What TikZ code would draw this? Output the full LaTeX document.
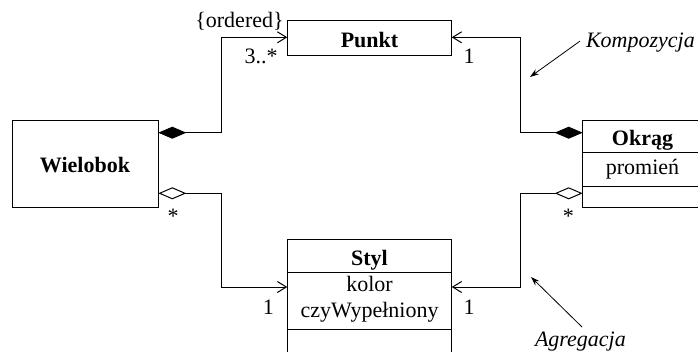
\documentclass[tikz,border=0pt]{standalone}
\usepackage{fontspec}
\setmainfont{Liberation Serif}
\usetikzlibrary{arrows.meta,calc}
\begin{document}
\begin{tikzpicture}[x=1pt,y=-1pt,line width=1pt,
  font=\fontsize{22}{26}\selectfont,
  cls/.style={draw,inner sep=0pt,outer sep=0pt,anchor=north west},
  txt/.style={inner sep=0pt,outer sep=0pt,anchor=base},
  ttl/.style={txt,font=\fontsize{22}{26}\selectfont\bfseries},
  compo/.style={{Diamond[length=28pt,width=12pt]}-{Straight Barb[length=9pt,width=11pt]}},
  aggr/.style={{Diamond[open,length=28pt,width=12pt]}-{Straight Barb[length=9pt,width=11pt]}},
  note/.style={-{Stealth[length=9pt,width=6pt]},line width=0.8pt}]
\useasboundingbox (0,0) rectangle (698,351);
\clip (0,0) rectangle (698,351);

% class boxes
\node[cls,minimum width=164.4pt,minimum height=35pt] (punkt) at (287.3,20.7) {};
\node[ttl] (punktT) at (369.5,47) {Punkt};

\node[cls,minimum width=146.3pt,minimum height=87pt] (wielobok) at (12,120) {};
\node[ttl] (wielobokT) at (85,172) {Wielobok};

\node[cls,minimum width=120pt,minimum height=87pt] (okrag) at (582.7,120) {};
\node[ttl] (okragT) at (642.5,145) {Okrąg};
\node[txt] (okragA) at (642.5,174) {promień};
\draw (okrag.north west) ++(0,32) coordinate (o1) -- ++(130,0);
\draw (okrag.north west) ++(0,66) coordinate (o2) -- ++(130,0);

\node[cls,minimum width=164.4pt,minimum height=130pt] (styl) at (287.3,239.3) {};
\node[ttl] (stylT) at (369.5,265) {Styl};
\node[txt] (stylA1) at (369.5,291) {kolor};
\node[txt] (stylA2) at (369.5,317) {czyWypełniony};
\draw (styl.north west) ++(0,33) coordinate (s1) -- (styl.north east |- s1);
\draw (styl.north west) ++(0,90) coordinate (s2) -- (styl.north east |- s2);

% connection points
\coordinate (wA) at ($(wielobok.north east)+(0,12.7)$);
\coordinate (wB) at ($(wielobok.north east)+(0,73.3)$);
\coordinate (oA) at ($(okrag.north west)+(0,12.7)$);
\coordinate (oB) at ($(okrag.north west)+(0,73.3)$);
\coordinate (sL) at ($(styl.north west)+(0,47.7)$);
\coordinate (sR) at ($(styl.north east)+(0,47.7)$);
\coordinate (pL) at ($(punkt.north west)+(0,16.6)$);
\coordinate (pR) at ($(punkt.north east)+(0,16.6)$);

% compositions
\draw[compo] (wA) -- ++(62.7,0) |- (pL);
\draw[compo] (oA) -- ++(-62,0) |- (pR);
% aggregations
\draw[aggr] (wB) -- ++(62.7,0) |- (sL);
\draw[aggr] (oB) -- ++(-62,0) |- (sR);

% multiplicities and constraints
\node[txt] (ord) at (239.5,27) {\{ordered\}};
\node[txt] (m1) at (261,63) {3..*};
\node[txt] (m2) at (469,63) {1};
\node[txt] (m3) at (173,223) {*};
\node[txt] (m4) at (568.3,223) {*};
\node[txt] (m5) at (268.3,314) {1};
\node[txt] (m6) at (469,314) {1};

% annotations
\node[txt,anchor=base west,font=\fontsize{22}{26}\selectfont\itshape] (komp) at (586,47) {Kompozycja};
\coordinate (kompT) at (530,77);
\draw[note] (komp.west) ++(-6,-1) coordinate (kompS) -- (kompT);
\node[txt,anchor=base west,font=\fontsize{22}{26}\selectfont\itshape] (agr) at (535,346.7) {Agregacja};
\coordinate (agrS) at (582,327);
\coordinate (agrT) at (531,277);
\draw[note] (agrS) -- (agrT);
\end{tikzpicture}
\end{document}
